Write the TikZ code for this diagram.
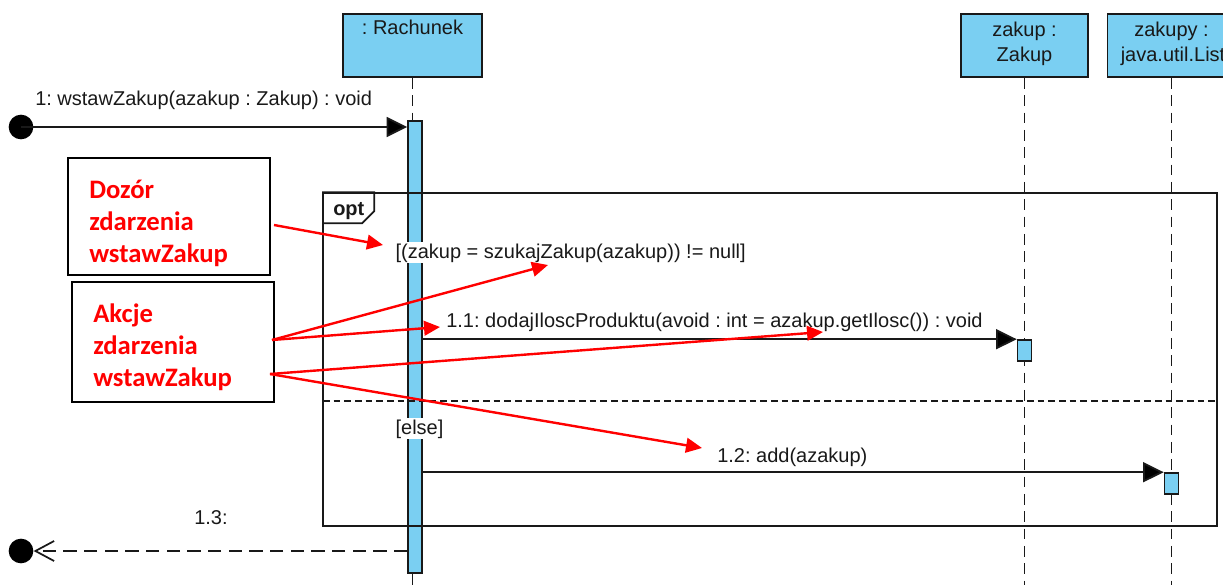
\documentclass[tikz,border=0pt]{standalone}
\usepackage{fontspec}
\setmainfont{Liberation Sans}
\newfontfamily\calib{Carlito}
\usetikzlibrary{arrows.meta}
\definecolor{lifeblue}{RGB}{122,207,242}
\definecolor{umlline}{RGB}{25,25,25}
\tikzset{
  objbox/.style={draw=umlline, fill=lifeblue, line width=1.4pt, inner sep=0pt, minimum height=47.25pt},
  lifeline/.style={draw=umlline, line width=1.4pt, dash pattern=on 8pt off 5pt},
  actbar/.style={draw=umlline, fill=lifeblue, line width=1.2pt, inner sep=0pt, minimum width=10.5pt},
  msg/.style={draw=umlline, line width=1.4pt, -{Triangle[length=15.5pt,width=15pt,fill=black]}},
  ret/.style={draw=umlline, line width=1.4pt, dash pattern=on 10pt off 5.5pt, -{Straight Barb[length=14pt,width=15pt,line width=1.3pt]}},
  umltxt/.style={font=\fontsize{15}{17}\selectfont\frenchspacing, text=black!90, inner sep=0pt},
  whitebg/.style={fill=white, inner sep=1pt},
  endpt/.style={circle, fill=black, inner sep=0pt, minimum size=18.5pt},
  frame/.style={draw=umlline, line width=1.3pt, inner sep=0pt},
  sepline/.style={draw=umlline, line width=1.3pt, dash pattern=on 5pt off 3pt},
  annot/.style={draw=black, line width=1.6pt, inner sep=0pt, minimum width=151.5pt},
  redtxt/.style={font=\calib\bfseries\fontsize{20}{24}\selectfont, text=red, align=left, inner sep=0pt},
  redarr/.style={draw=red, line width=1.8pt, -{Triangle[length=12pt,width=11pt]}},
}
\begin{document}
\begin{tikzpicture}[x=0.75pt,y=-0.75pt]
\useasboundingbox (0,0) rectangle (1223,585);
\begin{scope}
\clip (0,0) rectangle (1223,585);

% lifeline heads
\node[objbox, minimum width=104.25pt] (rach) at (412.5,45.5) {};
\node[objbox, minimum width=95.25pt] (zakup) at (1024.5,45.5) {};
\node[objbox, minimum width=96pt] (zakupy) at (1171.5,45.5) {};
\node[umltxt, anchor=base] (rachT) at (412.5,35) {: Rachunek};
\node[umltxt, anchor=base] (zakupT1) at (1024.5,37) {zakup :};
\node[umltxt, anchor=base] (zakupT2) at (1024.5,62) {Zakup};
\node[umltxt, anchor=base] (zakupyT1) at (1171.5,37) {zakupy :};
\node[umltxt, anchor=base] (zakupyT2) at (1173,62) {java.util.List};

% activations (positions)
\coordinate (barC) at (415,347);
\coordinate (zaC) at (1024.5,350.5);
\coordinate (zbC) at (1171.5,483.5);
\path (barC) node[actbar, minimum height=339pt, draw=none, fill=none] (bar) {};
\path (zaC) node[actbar, minimum height=15.75pt, draw=none, fill=none] (za) {};
\path (zbC) node[actbar, minimum height=15.75pt, draw=none, fill=none] (zb) {};

% lifelines
\coordinate (bottomR) at (412.5,585);
\coordinate (bottomZ) at (1024.5,585);
\coordinate (bottomL) at (1171.5,585);
\draw[lifeline] (rach.south) -- (rach.south |- bar.north);
\draw[umlline, line width=1.4pt] (rach.south |- bar.south) -- (bottomR);
\draw[lifeline] (zakup.south) -- (bottomZ);
\draw[lifeline] (zakupy.south) -- (bottomL);
% bars over lifelines
\node[actbar, minimum height=339pt] (barB) at (barC) {};
\node[actbar, minimum height=15.75pt] (zaB) at (zaC) {};
\node[actbar, minimum height=15.75pt] (zbB) at (zbC) {};

% opt frame
\node[frame, minimum width=670.5pt, minimum height=249.75pt] (optf) at (770,359.5) {};
\draw[frame] (optf.north west) -- ++(52,0) -- ++(0,19) -- ++(-12,12) -- ++(-40,0);
\node[umltxt, font=\fontsize{15}{17}\selectfont\bfseries, anchor=base west] (optT) at (333,215) {opt};
\coordinate (sepL) at (323,401);
\coordinate (sepR) at (1217,401);
\draw[sepline] (sepL) -- (sepR);

% guards
\node[umltxt, whitebg, anchor=base west] (guard) at (394,258) {[(zakup = szukajZakup(azakup)) != null]};
\node[umltxt, whitebg, anchor=base west] (elseT) at (394,434) {[else]};

% messages
\node[endpt] (start) at (21,127) {};
\node[endpt] (endc) at (21,551) {};
\draw[msg] (start.center) -- (start -| bar.west);
\node[umltxt, anchor=base west] (m1) at (35,105) {1: wstawZakup(azakup : Zakup) : void};
\draw[msg] (za.north west -| bar.east) -- (za.north west);
\node[umltxt, anchor=base west] (m11) at (446,327) {1.1: dodajIloscProduktu(avoid : int = azakup.getIlosc()) : void};
\draw[msg] (zb.north west -| bar.east) -- (zb.north west);
\node[umltxt, anchor=base west] (m12) at (717,462) {1.2: add(azakup)};
\draw[ret] (endc -| bar.west) -- (endc.east);
\node[umltxt, anchor=base west] (m13) at (194,524) {1.3:};

% annotations
\node[annot, minimum height=87.75pt] (dozor) at (169,216.5) {};
\node[redtxt, anchor=west] (dozorT) at (89,223) {Dozór\\zdarzenia\\wstawZakup};
\node[annot, minimum height=90pt] (akcje) at (173,342) {};
\node[redtxt, anchor=west] (akcjeT) at (93,347) {Akcje\\zdarzenia\\wstawZakup};

\coordinate (d1) at (274,225);
\coordinate (a1) at (272,340);
\coordinate (a2) at (270,374);
\coordinate (t1) at (383,245);
\coordinate (t2) at (548,265);
\coordinate (t3) at (440,327);
\coordinate (t4) at (823,332);
\coordinate (t5) at (702,448);
\draw[redarr] (d1) -- (t1);
\draw[redarr] (a1) -- (t2);
\draw[redarr] (a1) -- (t3);
\draw[redarr] (a2) -- (t4);
\draw[redarr] (a2) -- (t5);
\end{scope}
\end{tikzpicture}
\end{document}
